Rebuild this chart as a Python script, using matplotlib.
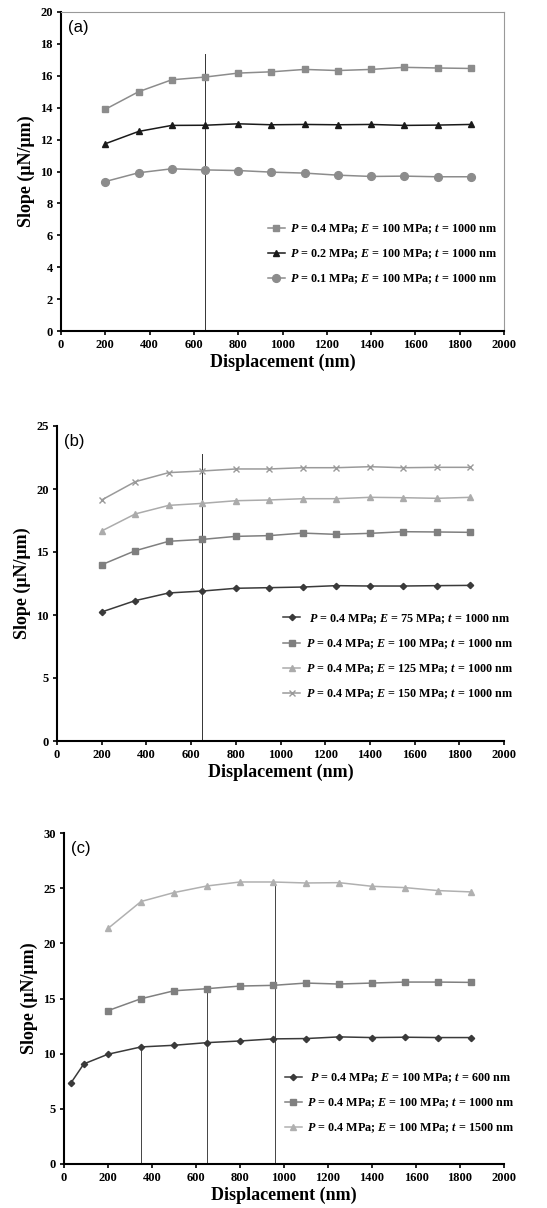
import matplotlib
matplotlib.use("Agg")
import matplotlib.pyplot as plt

plt.rcParams['font.family'] = ['Liberation Serif', 'DejaVu Serif']
plt.rcParams['font.weight'] = 'bold'
plt.rcParams['mathtext.fontset'] = 'custom'
plt.rcParams['mathtext.it'] = 'Liberation Serif:italic:bold'
plt.rcParams['mathtext.rm'] = 'Liberation Serif:bold'

# ---------------- data ----------------
x_std = [200, 350, 500, 650, 800, 950, 1100, 1250, 1400, 1550, 1700, 1850]

# panel (a)
a_p04 = [13.9, 15.0, 15.75, 15.92, 16.17, 16.25, 16.4, 16.33, 16.4, 16.53, 16.49, 16.46]
a_p02 = [11.74, 12.51, 12.89, 12.9, 12.99, 12.93, 12.95, 12.93, 12.95, 12.89, 12.91, 12.95]
a_p01 = [9.37, 9.92, 10.17, 10.1, 10.06, 9.96, 9.9, 9.77, 9.69, 9.71, 9.67, 9.67]
a_labels = [r"$P$ = 0.4 MPa; $E$ = 100 MPa; $t$ = 1000 nm",
            r"$P$ = 0.2 MPa; $E$ = 100 MPa; $t$ = 1000 nm",
            r"$P$ = 0.1 MPa; $E$ = 100 MPa; $t$ = 1000 nm"]
a_vline = 650
a_vline_top = 17.35

# panel (b)
b_e75 = [10.24, 11.14, 11.75, 11.9, 12.12, 12.17, 12.22, 12.33, 12.3, 12.3, 12.33, 12.35]
b_e100 = [13.99, 15.1, 15.85, 16.0, 16.24, 16.3, 16.5, 16.4, 16.48, 16.61, 16.59, 16.56]
b_e125 = [16.67, 18.02, 18.7, 18.86, 19.07, 19.13, 19.23, 19.23, 19.34, 19.31, 19.26, 19.34]
b_e150 = [19.13, 20.58, 21.3, 21.43, 21.59, 21.59, 21.69, 21.69, 21.77, 21.69, 21.72, 21.72]
b_labels = [r" $P$ = 0.4 MPa; $E$ = 75 MPa; $t$ = 1000 nm",
            r"$P$ = 0.4 MPa; $E$ = 100 MPa; $t$ = 1000 nm",
            r"$P$ = 0.4 MPa; $E$ = 125 MPa; $t$ = 1000 nm",
            r"$P$ = 0.4 MPa; $E$ = 150 MPa; $t$ = 1000 nm"]
b_vline = 650
b_vline_top = 22.8

# panel (c)
x_t600 = [30, 90, 200, 350, 500, 650, 800, 950, 1100, 1250, 1400, 1550, 1700, 1850]
c_t600 = [7.3, 9.07, 9.95, 10.61, 10.76, 11.0, 11.15, 11.34, 11.37, 11.52, 11.46, 11.49, 11.46, 11.46]
c_t1000 = [13.9, 14.98, 15.7, 15.89, 16.13, 16.19, 16.4, 16.31, 16.4, 16.49, 16.49, 16.46]
c_t1500 = [21.35, 23.79, 24.6, 25.2, 25.56, 25.56, 25.47, 25.5, 25.17, 25.05, 24.78, 24.66]
c_labels = [r" $P$ = 0.4 MPa; $E$ = 100 MPa; $t$ = 600 nm",
            r"$P$ = 0.4 MPa; $E$ = 100 MPa; $t$ = 1000 nm",
            r"$P$ = 0.4 MPa; $E$ = 100 MPa; $t$ = 1500 nm"]
c_vlines = [350, 650, 957]
c_vline_tops = [10.61, 15.89, 25.5]

xlabel = "Displacement (nm)"
ylabel = "Slope (μN/μm)"

# ---------------- figure ----------------
W, H = 547, 1208
fig = plt.figure(figsize=(W / 100, H / 100), dpi=100)


def make_ax(l, r, t, b):
    return fig.add_axes([l / W, 1 - b / H, (r - l) / W, (b - t) / H])


def style(ax, ymax, ystep, box=False):
    ax.set_xlim(0, 2000)
    ax.set_ylim(0, ymax)
    ax.set_xticks(range(0, 2001, 200))
    ax.set_yticks(range(0, ymax + 1, ystep))
    ax.tick_params(axis='both', direction='out', length=3, width=1.2,
                   labelsize=9, pad=3)
    for lab in ax.get_xticklabels() + ax.get_yticklabels():
        lab.set_fontweight('bold')
    ax.spines['left'].set_linewidth(1.5)
    ax.spines['bottom'].set_linewidth(1.5)
    if box:
        ax.spines['top'].set_color('#999999')
        ax.spines['right'].set_color('#999999')
        ax.spines['top'].set_linewidth(0.8)
        ax.spines['right'].set_linewidth(0.8)
    else:
        ax.spines['top'].set_visible(False)
        ax.spines['right'].set_visible(False)
    ax.set_xlabel(xlabel, fontsize=13, fontweight='bold', labelpad=2)
    ax.set_ylabel(ylabel, fontsize=13, fontweight='bold', labelpad=4)


def legend(ax, x, y):
    ax.legend(loc='center left', bbox_to_anchor=(x, y), frameon=False,
              fontsize=8.7, handlelength=1.4, handletextpad=0.45,
              labelspacing=0.95, borderpad=0, borderaxespad=0)


def panel_label(ax, s):
    ax.text(0.015, 0.975, s, transform=ax.transAxes, fontsize=12,
            fontweight='normal', family='Liberation Sans', va='top', ha='left')


lw = 1.1

# (a)
ax = make_ax(61, 504, 12, 331)
ax.plot([a_vline, a_vline], [0, a_vline_top], color='#333333', lw=0.7)
ax.plot(x_std, a_p04, color='#8c8c8c', marker='s', ms=4.8, lw=lw, label=a_labels[0])
ax.plot(x_std, a_p02, color='#1a1a1a', marker='^', ms=4.8, lw=lw, label=a_labels[1])
ax.plot(x_std, a_p01, color='#8c8c8c', marker='o', ms=5.6, lw=lw, label=a_labels[2])
style(ax, 20, 2, box=True)
legend(ax, 0.467, 0.241)
panel_label(ax, "(a)")

# (b)
ax = make_ax(57, 504, 426, 741)
ax.plot([b_vline, b_vline], [0, b_vline_top], color='#333333', lw=0.7)
ax.plot(x_std, b_e75, color='#3a3a3a', marker='D', ms=3.2, lw=lw, label=b_labels[0])
ax.plot(x_std, b_e100, color='#7f7f7f', marker='s', ms=4.8, lw=lw, label=b_labels[1])
ax.plot(x_std, b_e125, color='#ababab', marker='^', ms=4.8, lw=lw, label=b_labels[2])
ax.plot(x_std, b_e150, color='#9a9a9a', marker='x', ms=4.5, mew=1.0, lw=lw, label=b_labels[3])
style(ax, 25, 5)
legend(ax, 0.506, 0.268)
panel_label(ax, "(b)")

# (c)
ax = make_ax(64, 504, 833, 1164)
for xv, top in zip(c_vlines, c_vline_tops):
    ax.plot([xv, xv], [0, top], color='#444444', lw=0.7)
ax.plot(x_t600, c_t600, color='#3a3a3a', marker='D', ms=3.2, lw=lw, label=c_labels[0])
ax.plot(x_std, c_t1000, color='#808080', marker='s', ms=4.8, lw=lw, label=c_labels[1])
ax.plot(x_std, c_t1500, color='#b0b0b0', marker='^', ms=4.8, lw=lw, label=c_labels[2])
style(ax, 30, 5)
legend(ax, 0.502, 0.184)
panel_label(ax, "(c)")

fig.savefig("out.png", dpi=100)
